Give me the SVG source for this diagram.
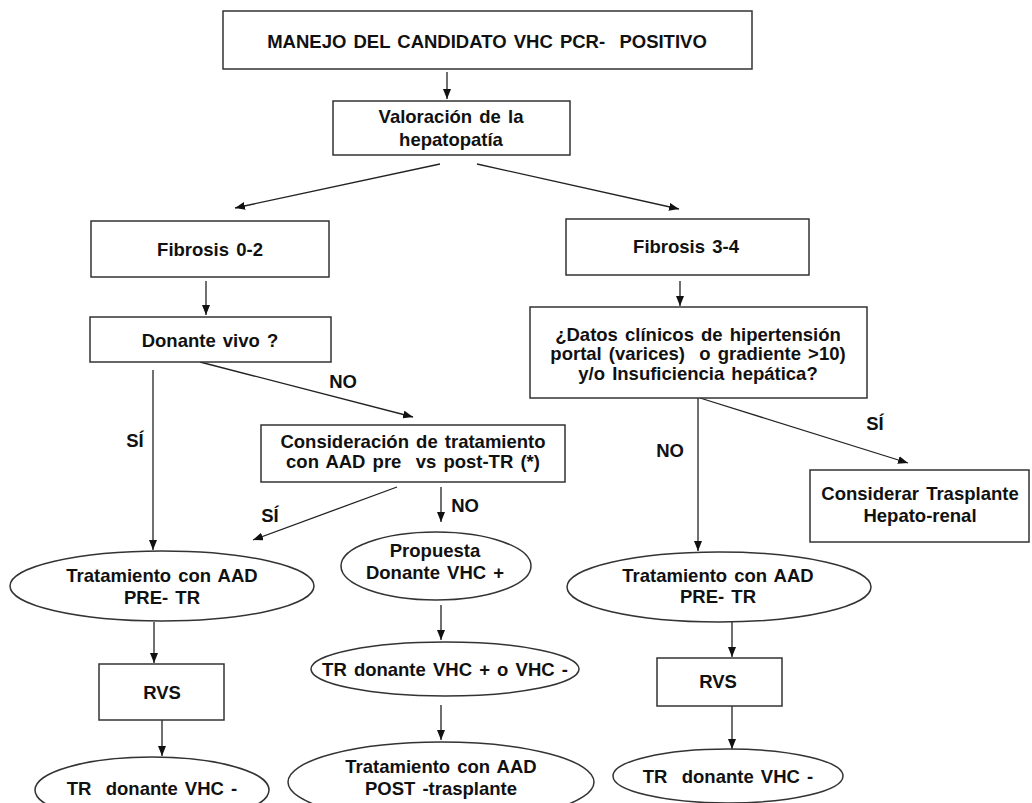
<svg xmlns="http://www.w3.org/2000/svg" width="1032" height="803" viewBox="0 0 1032 803">
<defs>
<marker id="ah" markerWidth="10" markerHeight="8" refX="10" refY="4" orient="auto" markerUnits="userSpaceOnUse">
<path d="M0,0 L10,4 L0,8 z" fill="#111"/>
</marker>
<style>
.n{fill:#fff;stroke:#333;stroke-width:1.5}
.t{font-family:"Liberation Sans",Arial,sans-serif;font-weight:bold;font-size:18.5px;word-spacing:2px;fill:#111;text-anchor:middle;white-space:pre}
.c{stroke:#222;stroke-width:1.3;fill:none;marker-end:url(#ah)}
</style>
</defs>
<rect width="1032" height="803" fill="#fff"/>
<g id="connectors">
<line class="c" x1="447" y1="72" x2="447" y2="99"/>
<line class="c" x1="440" y1="164" x2="235" y2="208"/>
<line class="c" x1="477" y1="164" x2="679" y2="209"/>
<line class="c" x1="206" y1="281" x2="206" y2="315"/>
<line class="c" x1="680" y1="281" x2="680" y2="306"/>
<line class="c" x1="153" y1="370" x2="153" y2="550"/>
<line class="c" x1="200" y1="362" x2="413" y2="417"/>
<line class="c" x1="397" y1="487" x2="253" y2="540"/>
<line class="c" x1="441" y1="487" x2="441" y2="522"/>
<line class="c" x1="698" y1="398" x2="698" y2="551"/>
<line class="c" x1="700" y1="398" x2="908" y2="463"/>
<line class="c" x1="154" y1="622" x2="154" y2="663"/>
<line class="c" x1="162" y1="720" x2="162" y2="756"/>
<line class="c" x1="441" y1="605" x2="441" y2="640"/>
<line class="c" x1="441" y1="705" x2="441" y2="740"/>
<line class="c" x1="732" y1="622" x2="732" y2="657"/>
<line class="c" x1="732" y1="706" x2="732" y2="749"/>
<text class="t" x="135" y="447">SÍ</text>
<text class="t" x="343" y="388">NO</text>
<text class="t" x="270" y="522">SÍ</text>
<text class="t" x="465" y="512">NO</text>
<text class="t" x="670" y="457">NO</text>
<text class="t" x="875" y="430">SÍ</text>
</g>
<g id="title"><rect class="n" x="223" y="11" width="529" height="58"/><text class="t" x="487" y="48">MANEJO DEL CANDIDATO VHC PCR-  POSITIVO</text></g>
<g id="valoracion"><rect class="n" x="333" y="101" width="237" height="54"/><text class="t" x="451" y="123">Valoración de la</text><text class="t" x="451" y="146">hepatopatía</text></g>
<g id="fibrosis02"><rect class="n" x="91" y="221" width="238" height="56"/><text class="t" x="210" y="256">Fibrosis 0-2</text></g>
<g id="fibrosis34"><rect class="n" x="566" y="219" width="243" height="56"/><text class="t" x="686" y="253">Fibrosis 3-4</text></g>
<g id="donante"><rect class="n" x="90" y="317" width="241" height="45"/><text class="t" x="210" y="347">Donante vivo ?</text></g>
<g id="datos"><rect class="n" x="530" y="307" width="337" height="91"/><text class="t" x="698" y="341">¿Datos clínicos de hipertensión</text><text class="t" x="698" y="360">portal (varices)  o gradiente &gt;10)</text><text class="t" x="698" y="380">y/o Insuficiencia hepática?</text></g>
<g id="consideracion"><rect class="n" x="261" y="425" width="304" height="57"/><text class="t" x="413" y="448">Consideración de tratamiento</text><text class="t" x="413" y="468">con AAD pre  vs post-TR (*)</text></g>
<g id="considerar"><rect class="n" x="810" y="470" width="219" height="72"/><text class="t" x="920" y="500">Considerar Trasplante</text><text class="t" x="920" y="522">Hepato-renal</text></g>
<g id="tratPreL"><ellipse class="n" cx="162" cy="586" rx="152" ry="35"/><text class="t" x="162" y="582">Tratamiento con AAD</text><text class="t" x="162" y="604">PRE- TR</text></g>
<g id="rvsL"><rect class="n" x="99" y="664" width="125" height="56"/><text class="t" x="162" y="699">RVS</text></g>
<g id="trL"><ellipse class="n" cx="152" cy="790" rx="117" ry="33"/><text class="t" x="152" y="795">TR  donante VHC -</text></g>
<g id="propuesta"><ellipse class="n" cx="436" cy="566" rx="95" ry="34"/><text class="t" x="435" y="557">Propuesta</text><text class="t" x="435" y="579">Donante VHC +</text></g>
<g id="trMix"><ellipse class="n" cx="445" cy="669" rx="134" ry="27"/><text class="t" x="445" y="676">TR donante VHC + o VHC -</text></g>
<g id="tratPost"><ellipse class="n" cx="441" cy="782" rx="153" ry="40"/><text class="t" x="441" y="773">Tratamiento con AAD</text><text class="t" x="441" y="795">POST -trasplante</text></g>
<g id="tratPreR"><ellipse class="n" cx="719" cy="587" rx="152" ry="35"/><text class="t" x="718" y="582">Tratamiento con AAD</text><text class="t" x="718" y="603">PRE- TR</text></g>
<g id="rvsR"><rect class="n" x="657" y="658" width="125" height="48"/><text class="t" x="718" y="688">RVS</text></g>
<g id="trR"><ellipse class="n" cx="728" cy="776" rx="115" ry="27"/><text class="t" x="728" y="783">TR  donante VHC -</text></g>
</svg>
